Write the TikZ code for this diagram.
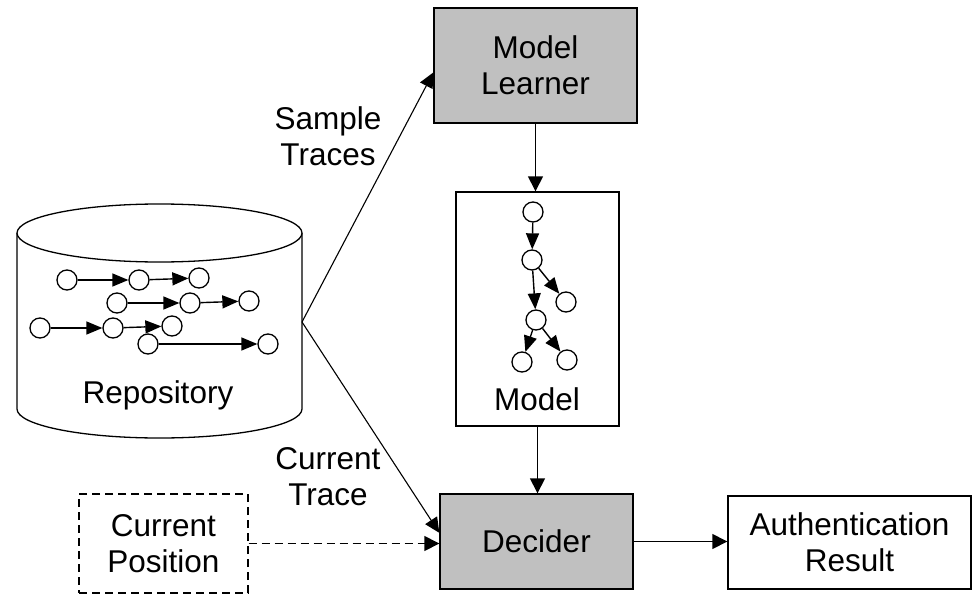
\documentclass[tikz,border=0pt]{standalone}
\usepackage{fontspec}
\setmainfont{Liberation Sans}
\usetikzlibrary{arrows.meta,calc}
\definecolor{boxgray}{RGB}{192,192,192}
\begin{document}
\begin{tikzpicture}[x=1pt,y=-1pt,
  txt/.style={font=\fontsize{31.5}{36}\selectfont, align=center},
  box/.style={draw, line width=1.4pt, inner sep=0pt, txt},
  gbox/.style={box, fill=boxgray},
  dot/.style={circle, draw, fill=white, line width=1.3pt, minimum size=20pt, inner sep=0pt},
  arr/.style={line width=1.5pt, -{Triangle[length=15pt,width=15pt]}},
  thinarr/.style={line width=1.1pt, -{Triangle[length=15pt,width=14pt]}},
  sarr/.style={line width=1.4pt, -{Triangle[length=16pt,width=13pt]}}
]
\useasboundingbox (0,0) rectangle (972,594);

% repository cylinder
\draw[line width=1.3pt] (17,233) -- (17,409) arc[start angle=180, end angle=0, x radius=142.5, y radius=29] -- (302,233);
\draw[line width=1.3pt, fill=white] (159.5,233) ellipse [x radius=142.5, y radius=29];
\coordinate (repoR) at (302,322);
\node[txt, anchor=base] (repotxt) at (158,403) {Repository};

% traces in repository
\node[dot] (a1) at (67,280) {};
\node[dot] (a2) at (139,280) {};
\node[dot] (a3) at (199,278) {};
\node[dot] (b1) at (117,303) {};
\node[dot] (b2) at (190,303) {};
\node[dot] (b3) at (249,301) {};
\node[dot] (c1) at (40,328) {};
\node[dot] (c2) at (113,328) {};
\node[dot] (c3) at (172,326) {};
\node[dot] (d1) at (148,344) {};
\node[dot] (d2) at (268,344) {};
\draw[sarr] (a1) -- (a2);
\draw[sarr] (a2) -- (a3);
\draw[sarr] (b1) -- (b2);
\draw[sarr] (b2) -- (b3);
\draw[sarr] (c1) -- (c2);
\draw[sarr] (c2) -- (c3);
\draw[sarr] (d1) -- (d2);

% main boxes
\node[gbox, minimum width=203pt, minimum height=115pt] (ML) at (535.5,65.5) {Model\\Learner};
\node[box, minimum width=163pt, minimum height=234pt] (Model) at (537.5,309) {};
\node[txt] (modeltxt) at (537,399) {Model};
\node[gbox, minimum width=193pt, minimum height=95pt] (Decider) at (536.5,541.5) {Decider};
\node[box, minimum width=243pt, minimum height=93pt] (Auth) at (849.5,542.5) {Authentication\\Result};
\node[box, dash pattern=on 8pt off 5pt, minimum width=169pt, minimum height=99pt] (CP) at (163.5,543.5) {Current\\Position};

% model tree
\node[dot] (n1) at (533,212) {};
\node[dot] (n2) at (532,260) {};
\node[dot] (n3) at (566,302) {};
\node[dot] (n4) at (536,320) {};
\node[dot] (n5) at (522,362) {};
\node[dot] (n6) at (567,360) {};
\draw[sarr] (n1) -- (n2);
\draw[sarr] (n2) -- (n3);
\draw[sarr] (n2) -- (n4);
\draw[sarr] (n4) -- (n5);
\draw[sarr] (n4) -- (n6);

% connectors
\draw[thinarr] (repoR) -- ($(ML.north west)!0.56!(ML.south west)$);
\draw[thinarr] (repoR) -- ($(Decider.north west)!0.41!(Decider.south west)$);
\draw[arr] (ML.south) -- (ML.south |- Model.north);
\draw[arr] (Model.south) -- (Model.south |- Decider.north);
\draw[arr] (Decider.east) -- (Decider.east -| Auth.west);
\draw[arr, dash pattern=on 8pt off 5pt] (CP.east) -- (CP.east -| Decider.west);

% labels
\node[txt] (lblsample) at (328,136) {Sample\\Traces};
\node[txt] (lblcurrent) at (328,477) {Current\\Trace};
\end{tikzpicture}
\end{document}
